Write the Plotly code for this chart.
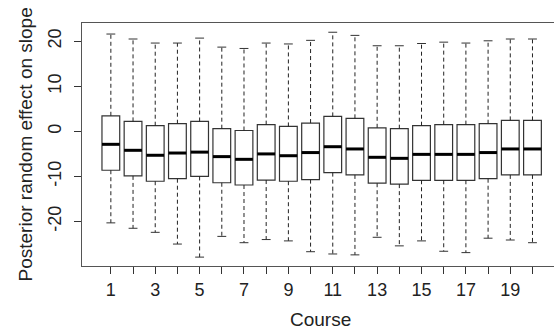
import plotly.graph_objects as go

courses = list(range(1, 21))
upper = [21.6, 20.5, 19.6, 19.6, 20.7, 18.7, 18.4, 19.6, 19.4, 20.2,
         22.0, 21.3, 19.0, 19.0, 19.5, 19.8, 19.6, 20.1, 20.5, 20.5]
q3 = [3.46, 2.22, 1.26, 1.7, 2.2, 0.6, 0.2, 1.5, 1.1, 1.85,
      3.33, 2.9, 0.8, 0.6, 1.26, 1.5, 1.5, 1.7, 2.44, 2.44]
median = [-2.87, -4.2, -5.3, -4.8, -4.6, -5.6, -6.2, -5.0, -5.4, -4.7,
          -3.4, -3.9, -5.75, -5.98, -5.1, -5.1, -5.1, -4.7, -3.9, -3.9]
q1 = [-8.62, -9.88, -11.06, -10.5, -10.0, -11.4, -11.9, -10.8, -11.06, -10.7,
      -9.15, -9.66, -11.5, -11.7, -10.85, -10.85, -10.85, -10.5, -9.66, -9.66]
lower = [-20.3, -21.5, -22.4, -25.0, -27.9, -23.3, -24.7, -24.0, -24.3, -26.7,
         -27.2, -27.4, -23.5, -25.4, -24.3, -26.6, -26.9, -23.7, -24.1, -24.7]
tick_labels = [str(c) if c % 2 == 1 else "" for c in courses]
y_ticks = [-20, -10, 0, 10, 20]
y_tick_labels = ["-20", "-10", "0", "10", "20"]

BOXW = 0.8
CAPW = 0.4
FONT = "Liberation Sans, Arial, sans-serif"
LINE = "#333333"

fig = go.Figure()

# whiskers (dashed)
wx, wy = [], []
for c, u, h, l, lo in zip(courses, upper, q3, q1, lower):
    wx += [c, c, None, c, c, None]
    wy += [h, u, None, l, lo, None]
fig.add_trace(go.Scatter(x=wx, y=wy, mode="lines",
                         line=dict(color="#222222", width=1, dash="4px,3px"),
                         hoverinfo="skip", showlegend=False))
# caps
cx, cy = [], []
for c, u, lo in zip(courses, upper, lower):
    cx += [c - CAPW / 2, c + CAPW / 2, None, c - CAPW / 2, c + CAPW / 2, None]
    cy += [u, u, None, lo, lo, None]
fig.add_trace(go.Scatter(x=cx, y=cy, mode="lines",
                         line=dict(color="#333333", width=1),
                         hoverinfo="skip", showlegend=False))
# boxes
fig.add_trace(go.Box(x=courses, q1=q1, median=median, q3=q3,
                     lowerfence=q1, upperfence=q3, width=BOXW,
                     fillcolor="white", line=dict(color=LINE, width=1.2),
                     whiskerwidth=0, showlegend=False, hoverinfo="skip"))
# medians (thick)
mx, my = [], []
for c, m in zip(courses, median):
    mx += [c - BOXW / 2, c + BOXW / 2, None]
    my += [m, m, None]
fig.add_trace(go.Scatter(x=mx, y=my, mode="lines",
                         line=dict(color="black", width=3),
                         hoverinfo="skip", showlegend=False))

fig.update_layout(
    width=554, height=330,
    margin=dict(l=82, r=0, t=23, b=64, autoexpand=False),
    paper_bgcolor="white", plot_bgcolor="white",
    font=dict(family=FONT, size=18, color="#222222"),
    showlegend=False,
    xaxis=dict(range=[-0.3, 20.97], tickmode="array", tickvals=courses,
               ticktext=tick_labels, ticks="outside", ticklen=7,
               tickcolor=LINE, showline=True, linecolor="#555555",
               linewidth=1.3, mirror=True, showgrid=False, zeroline=False,
               tickfont=dict(size=18), automargin=False),
    yaxis=dict(range=[-29.87, 24.05], tickmode="array", tickvals=y_ticks,
               ticktext=y_tick_labels,
               ticks="outside", ticklen=7, tickcolor=LINE, tickangle=-90,
               showline=True, linecolor="#555555", linewidth=1.3,
               showgrid=False, zeroline=False, tickfont=dict(size=18),
               ticklabelstandoff=6, automargin=False),
    annotations=[
        dict(text="Course", xref="paper", yref="paper",
             x=0.506, y=0, yshift=-53, xanchor="center",
             yanchor="middle", showarrow=False,
             font=dict(size=19, family=FONT, color="#222222")),
        dict(text="Posterior random effect on slope", xref="paper",
             yref="paper", x=0, xshift=-57, y=0.5, xanchor="center",
             yanchor="middle", textangle=-90, showarrow=False,
             font=dict(size=19, family=FONT, color="#222222")),
    ],
)

fig.write_html("out.html",
               config={"displayModeBar": False, "staticPlot": True},
               post_script="document.body.style.margin='0';"
                           "document.body.style.overflow='hidden';")
